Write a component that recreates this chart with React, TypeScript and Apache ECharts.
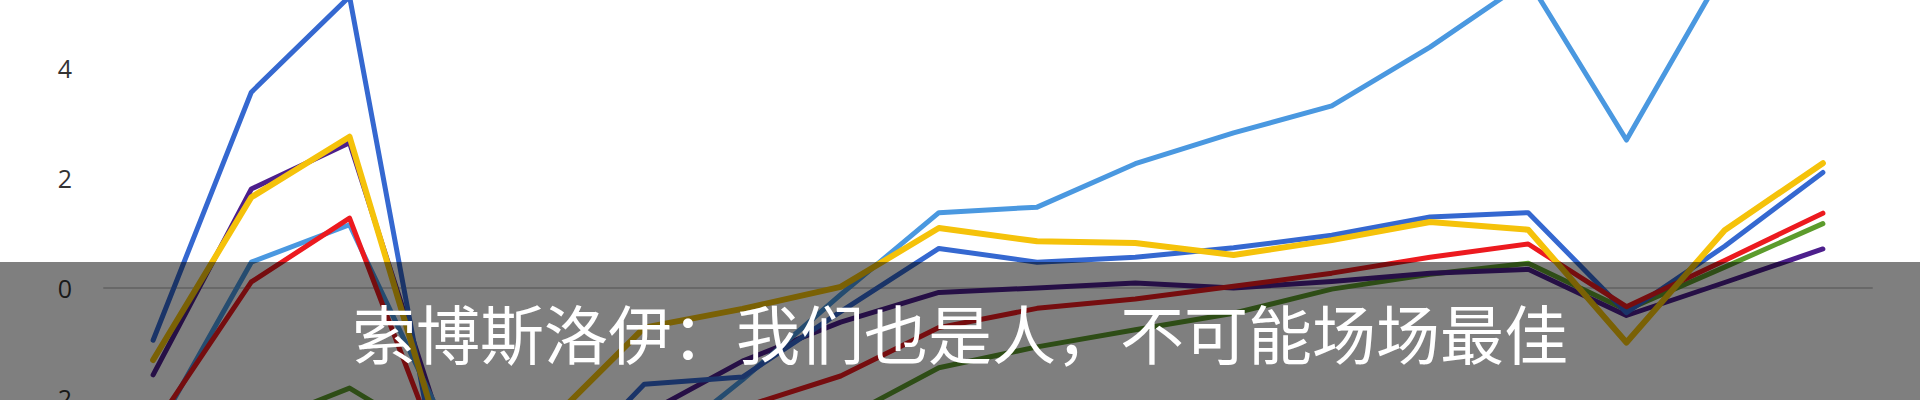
import React, { useEffect, useRef } from "react";
import * as echarts from "echarts";

const rounds = ["1", "2", "3", "4", "5", "6", "7", "8", "9", "10", "11", "12", "13", "14", "15", "16", "17", "18"];
const yTicks = [-4, -2, 0, 2, 4, 6];

const lightBlue = [-2.7, 0.47, 1.15, -2.6, -3.3, -3.1, -1.67, -0.12, 1.37, 1.47, 2.26, 2.82, 3.31, 4.38, 5.6, 2.69, 5.8, 6.4];
const blue = [-0.95, 3.56, 5.3, -4.3, -3.6, -1.75, -1.62, -0.43, 0.72, 0.47, 0.56, 0.73, 0.96, 1.29, 1.37, -0.45, 0.76, 2.1];
const yellow = [-1.31, 1.65, 2.75, -3.2, -2.5, -0.72, -0.38, 0.02, 1.09, 0.85, 0.82, 0.6, 0.87, 1.2, 1.06, -0.99, 1.05, 2.27];
const purple = [-1.58, 1.8, 2.64, -2.9, -3.0, -2.3, -1.33, -0.62, -0.08, 0.0, 0.09, 0.0, 0.12, 0.27, 0.34, -0.5, 0.1, 0.71];
const red = [-2.55, 0.11, 1.27, -3.4, -3.0, -2.6, -2.17, -1.6, -0.72, -0.37, -0.2, 0.03, 0.27, 0.56, 0.8, -0.34, 0.5, 1.36];
const green = [-3.0, -2.53, -1.82, -2.9, -3.4, -3.0, -2.7, -2.4, -1.45, -1.07, -0.76, -0.46, -0.02, 0.25, 0.45, -0.4, 0.38, 1.17];

const caption = "索博斯洛伊：我们也是人，不可能场场最佳";

// chart div is shifted up by OFFSET px inside a 1920x400 clipping frame
const OFFSET = 60;

export default function App() {
  const ref = useRef<HTMLDivElement>(null);

  useEffect(() => {
    if (!ref.current) return;
    const chart = echarts.init(ref.current, undefined, { renderer: "svg" });
    const mk = (name: string, data: number[], color: string, width: number, z: number) => ({
      name,
      type: "line",
      data,
      symbol: "none",
      z,
      lineStyle: { color, width, cap: "round", join: "round" },
      itemStyle: { color },
    });
    chart.setOption({
      animation: false,
      backgroundColor: "#ffffff",
      grid: { left: 104, right: 48, top: OFFSET - 42, height: 550 },
      xAxis: {
        type: "category",
        data: rounds,
        boundaryGap: true,
        axisLine: { show: true, onZero: true, lineStyle: { color: "#d0d0d0", width: 2 } },
        axisTick: { show: false },
        axisLabel: { show: false },
        splitLine: { show: false },
      },
      yAxis: {
        type: "value",
        min: yTicks[0],
        max: yTicks[yTicks.length - 1],
        interval: 2,
        axisLine: { show: false },
        axisTick: { show: false },
        splitLine: { show: false },
        axisLabel: {
          margin: 32,
          color: "#333333",
          fontSize: 25,
          padding: [0, 0, 8, 0],
          fontFamily: "Open Sans, Noto Sans, sans-serif",
        },
      },
      series: [
        mk("绿", green, "#5c9b2c", 5, 2),
        mk("紫", purple, "#4d1f8c", 5, 3),
        mk("浅蓝", lightBlue, "#4a98e0", 5, 4),
        mk("蓝", blue, "#3568d0", 5, 5),
        mk("红", red, "#ec1a1f", 5, 6),
        mk("黄", yellow, "#f5c20a", 6, 7),
      ],
      graphic: [
        {
          type: "rect",
          z: 100,
          shape: { x: 0, y: OFFSET + 262, width: 1920, height: 138 },
          style: { fill: "rgba(0,0,0,0.5)" },
        },
        {
          type: "text",
          z: 101,
          x: 960,
          y: OFFSET + 331,
          style: {
            text: caption,
            fill: "#ffffff",
            fontSize: 64,
            fontFamily: "Noto Sans CJK SC, sans-serif",
            align: "center",
            verticalAlign: "middle",
          },
        },
      ],
    });
    return () => chart.dispose();
  }, []);

  return (
    <div
      style={{
        position: "absolute",
        left: 0,
        top: 0,
        width: 1920,
        height: 400,
        overflow: "hidden",
        background: "#fff",
      }}
    >
      <div
        ref={ref}
        style={{ position: "absolute", left: 0, top: -OFFSET, width: 1920, height: 620 }}
      />
    </div>
  );
}
